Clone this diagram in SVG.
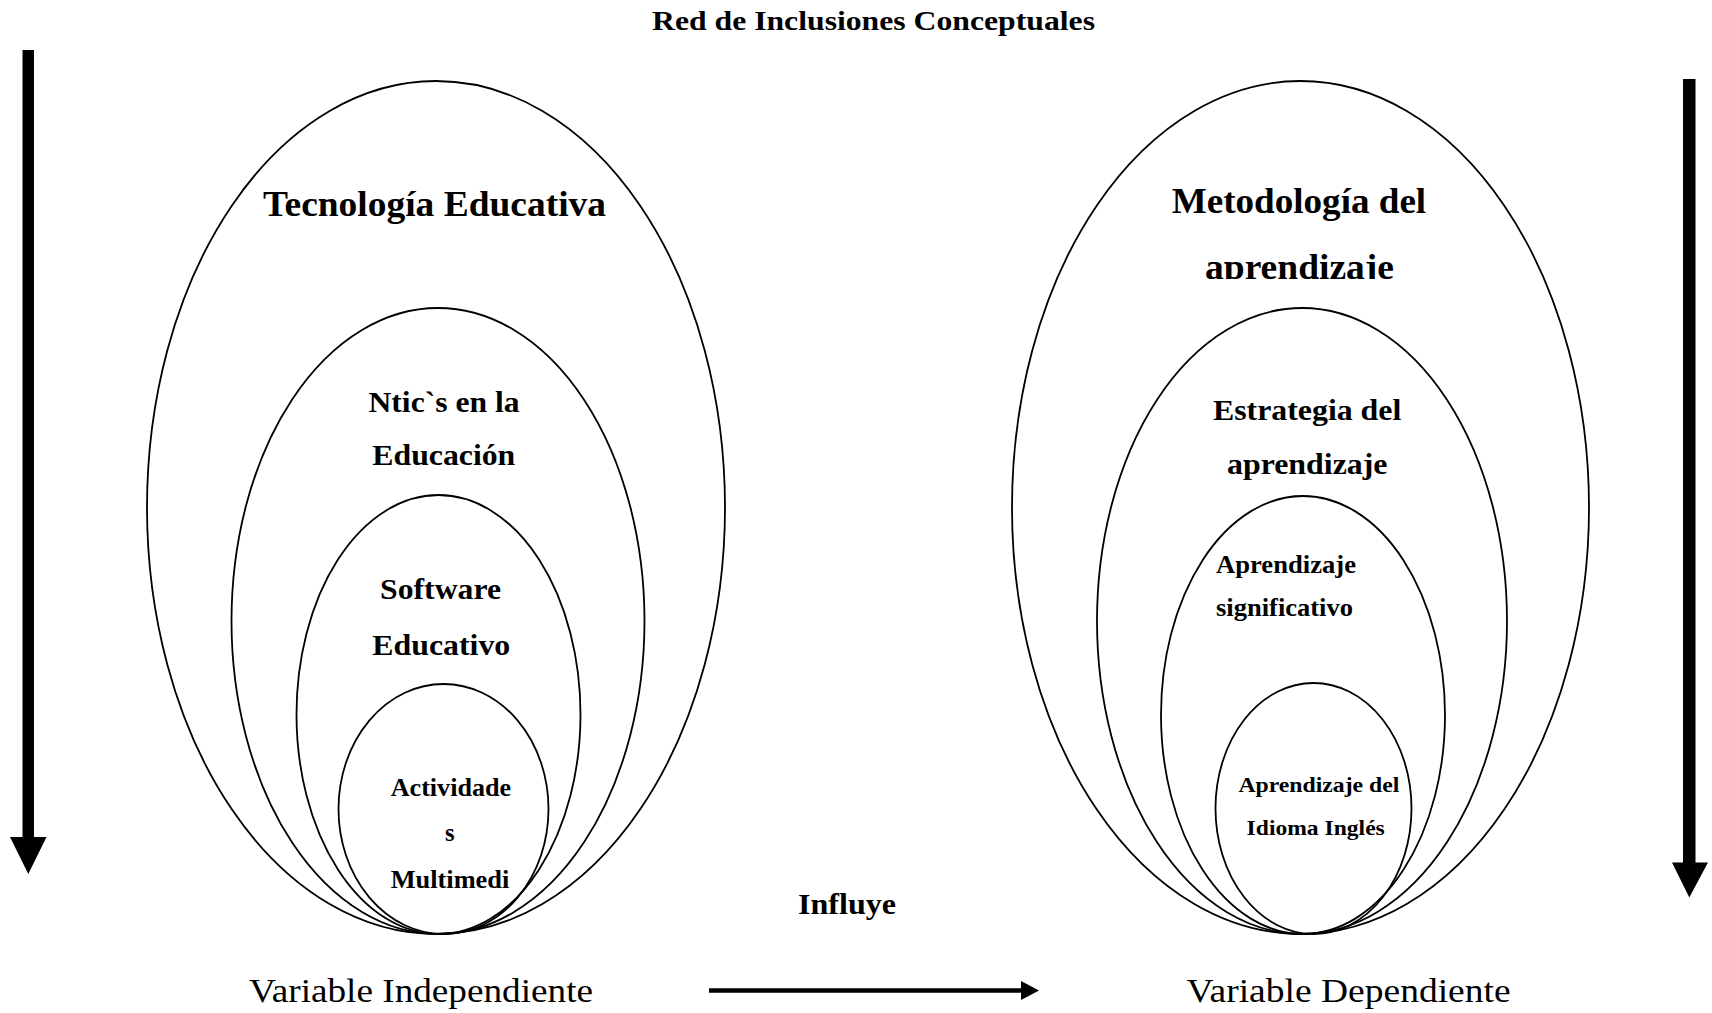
<svg xmlns="http://www.w3.org/2000/svg" width="1712" height="1013" viewBox="0 0 1712 1013">
<style>
.ell{fill:none;stroke:#000;stroke-width:1.8}
.b{font-family:"Liberation Serif","Times New Roman",serif;font-weight:bold;fill:#000}
.r{font-family:"Liberation Serif","Times New Roman",serif;font-weight:normal;fill:#000}
.arr{fill:#000;stroke:none}
</style>
<defs>
<clipPath id="cut"><rect x="1100" y="200" width="400" height="79"/></clipPath>
</defs>
<rect width="1712" height="1013" fill="#fff"/>
<text class="b" x="652" y="30" font-size="28" textLength="443" lengthAdjust="spacingAndGlyphs">Red de Inclusiones Conceptuales</text>

<g id="tecnologia">
<ellipse class="ell" cx="436" cy="507.5" rx="289" ry="426.5"/>
<text class="b" x="263" y="215.5" font-size="35" textLength="343" lengthAdjust="spacingAndGlyphs">Tecnología Educativa</text>
</g>
<g id="ntics">
<ellipse class="ell" cx="438" cy="621" rx="206.5" ry="313"/>
<text class="b" x="368.5" y="411.5" font-size="29" textLength="151" lengthAdjust="spacingAndGlyphs">Ntic`s en la</text>
<text class="b" x="372.3" y="465" font-size="29" textLength="143" lengthAdjust="spacingAndGlyphs">Educación</text>
</g>
<g id="software">
<ellipse class="ell" cx="438.5" cy="714.5" rx="142" ry="219.5"/>
<text class="b" x="380" y="599" font-size="29" textLength="121" lengthAdjust="spacingAndGlyphs">Software</text>
<text class="b" x="372.3" y="655" font-size="29" textLength="138" lengthAdjust="spacingAndGlyphs">Educativo</text>
</g>
<g id="actividades">
<ellipse class="ell" cx="443.5" cy="809" rx="105" ry="125"/>
<text class="b" x="390.7" y="796" font-size="24.5" textLength="120.5" lengthAdjust="spacingAndGlyphs">Actividade</text>
<text class="b" x="445" y="841" font-size="24.5">s</text>
<text class="b" x="390.7" y="887.7" font-size="24.5" textLength="118.6" lengthAdjust="spacingAndGlyphs">Multimedi</text>
</g>

<g id="metodologia">
<ellipse class="ell" cx="1300.5" cy="507.5" rx="288.5" ry="426.5"/>
<text class="b" x="1171.7" y="213" font-size="35" textLength="254.5" lengthAdjust="spacingAndGlyphs">Metodología del</text>
<text class="b" x="1205" y="278.5" font-size="35" textLength="189" lengthAdjust="spacingAndGlyphs" clip-path="url(#cut)">aprendizaje</text>
</g>
<g id="estrategia">
<ellipse class="ell" cx="1302" cy="621" rx="205" ry="313"/>
<text class="b" x="1213" y="419.5" font-size="29" textLength="188.3" lengthAdjust="spacingAndGlyphs">Estrategia del</text>
<text class="b" x="1227" y="474" font-size="29" textLength="160.5" lengthAdjust="spacingAndGlyphs">aprendizaje</text>
</g>
<g id="significativo">
<ellipse class="ell" cx="1303" cy="715" rx="142" ry="219"/>
<text class="b" x="1216" y="573" font-size="24.5" textLength="140" lengthAdjust="spacingAndGlyphs">Aprendizaje</text>
<text class="b" x="1216" y="616" font-size="24.5" textLength="137" lengthAdjust="spacingAndGlyphs">significativo</text>
</g>
<g id="ingles">
<ellipse class="ell" cx="1313.5" cy="808.5" rx="98" ry="125.5"/>
<text class="b" x="1238.4" y="792" font-size="22" textLength="161" lengthAdjust="spacingAndGlyphs">Aprendizaje del</text>
<text class="b" x="1246.6" y="835" font-size="22" textLength="138.2" lengthAdjust="spacingAndGlyphs">Idioma Inglés</text>
</g>

<g id="labels">
<text class="b" x="798" y="914" font-size="29" textLength="98" lengthAdjust="spacingAndGlyphs">Influye</text>
<text class="r" x="249" y="1002" font-size="34" textLength="344" lengthAdjust="spacingAndGlyphs">Variable Independiente</text>
<text class="r" x="1186.6" y="1002" font-size="34" textLength="324" lengthAdjust="spacingAndGlyphs">Variable Dependiente</text>
</g>

<g id="connectors">
<path class="arr" d="M22.5,50 H34 V837 H46.5 L28.3,874 L10,837 H22.5 Z"/>
<path class="arr" d="M1683,79 H1695.5 V862.5 H1708 L1689.3,897.5 L1672,862.5 H1683 Z"/>
<line x1="709" y1="990.5" x2="1022" y2="990.5" stroke="#000" stroke-width="4.5"/>
<path class="arr" d="M1021,981 L1039,990.5 L1021,1000 Z"/>
</g>
</svg>
